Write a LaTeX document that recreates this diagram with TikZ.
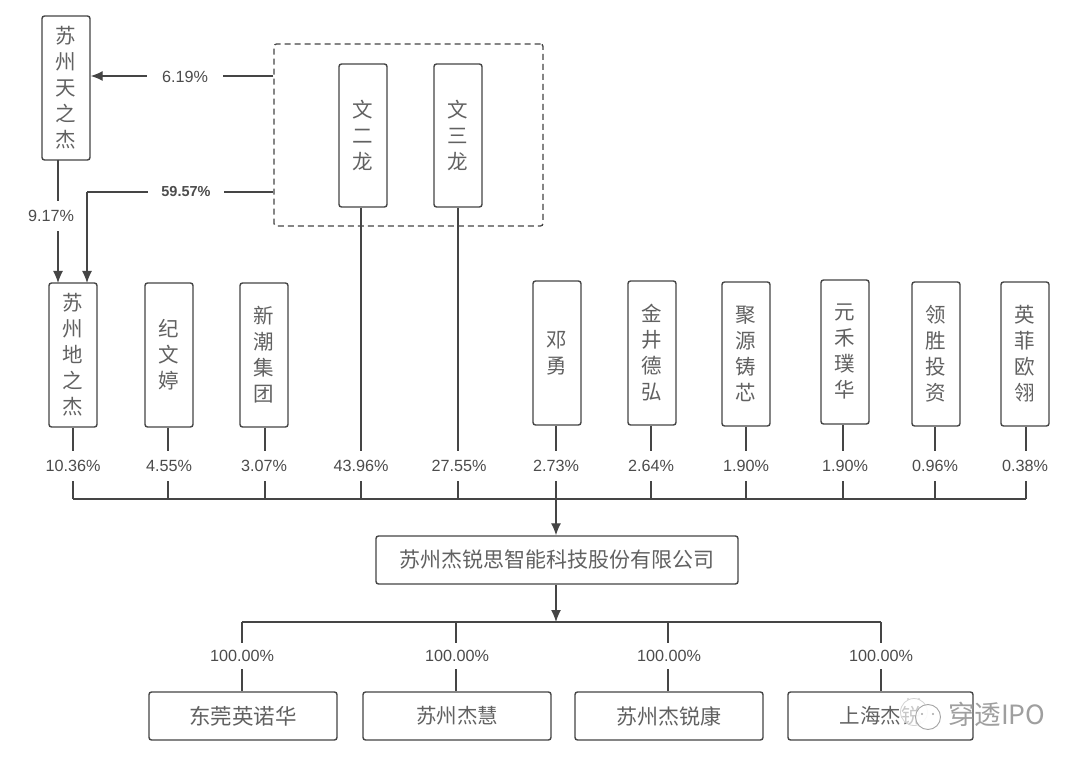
\documentclass[tikz,border=0pt]{standalone}
\usepackage{fontspec}
\setmainfont{Liberation Sans}
\newfontfamily\cjk{Noto Sans CJK SC}
\usetikzlibrary{arrows.meta}
\definecolor{ink}{gray}{0.27}
\definecolor{txt}{gray}{0.3}
\definecolor{cjktxt}{gray}{0.38}
\tikzset{
  x=1pt,y=-1pt,
  conn/.style={draw=ink,line width=1.3pt},
  arr/.style={conn,-{Latex[length=12pt,width=10pt]}},
  vbox/.style={draw=ink,line width=1.4pt,rounded corners=2.5pt,fill=white,minimum width=48pt,minimum height=144pt,inner sep=0pt,align=center,text=cjktxt,font=\fontsize{20.5}{26}\selectfont\cjk},
  hbox/.style={draw=ink,line width=1.4pt,rounded corners=2.5pt,fill=white,minimum width=188pt,minimum height=48pt,inner sep=0pt,text=cjktxt,font=\fontsize{21}{24}\selectfont\cjk},
  pct/.style={fill=white,inner sep=3pt,text=txt,font=\fontsize{16.2}{18}\selectfont},
  dashbox/.style={draw=ink,line width=1.3pt,dash pattern=on 6pt off 4pt,rounded corners=2.5pt,minimum width=269pt,minimum height=182pt,inner sep=0pt},
}
\begin{document}
\begin{tikzpicture}
\useasboundingbox (0,0) rectangle (1080,762);
\fill[white] (0,0) rectangle (1080,762);
% dashed group
\node[dashbox] (group) at (408.5,135) {};
% boxes
\node[vbox] (tian) at (66,88) {苏\\州\\天\\之\\杰};
\node[vbox,minimum height=143pt] (er) at (363,135.5) {文\\二\\龙};
\node[vbox,minimum height=143pt] (san) at (458,135.5) {文\\三\\龙};
\node[vbox] (di) at (73,355) {苏\\州\\地\\之\\杰};
\node[vbox] (ji) at (169,355) {纪\\文\\婷};
\node[vbox] (xin) at (264,355) {新\\潮\\集\\团};
\node[vbox] (deng) at (557,353) {邓\\勇};
\node[vbox] (jin) at (652,353) {金\\井\\德\\弘};
\node[vbox] (ju) at (746,354) {聚\\源\\铸\\芯};
\node[vbox] (yuan) at (845,352) {元\\禾\\璞\\华};
\node[vbox] (ling) at (936,354) {领\\胜\\投\\资};
\node[vbox] (ying) at (1025,354) {英\\菲\\欧\\翎};
\node[hbox,minimum width=362pt] (co) at (557,560) {苏州杰锐思智能科技股份有限公司};
\node[hbox,font=\fontsize{21.5}{24}\selectfont\cjk] (dg) at (243,716) {东莞英诺华};
\node[hbox,font=\fontsize{20.5}{24}\selectfont\cjk] (sh) at (457,716) {苏州杰慧};
\node[hbox] (kang) at (669,716) {苏州杰锐康};
\node[hbox,minimum width=185pt,font=\fontsize{20.5}{24}\selectfont\cjk] (hai) at (880.5,716) {上海杰锐};
% bus coordinates
\coordinate (busL) at (73,499);
\coordinate (busR) at (1026,499);
\coordinate (busM) at (556,499);
\coordinate (bus2L) at (242,622);
\coordinate (bus2R) at (881,622);
\coordinate (bus2M) at (556,622);
% top connectors
\coordinate (g1) at (group.west |- 0,76);
\coordinate (g2) at (group.west |- 0,192);
\coordinate (t1) at (tian.east |- 0,76);
\coordinate (d1) at (87,283);
\coordinate (c1) at (87,192);
\coordinate (t2) at (58,160);
\coordinate (d2) at (58,283);
\draw[arr] (g1) -- (t1);
\draw[conn] (g2) -- (c1);
\draw[arr] (c1) -- (d1);
\draw[arr] (t2) -- (d2);
\node[pct,inner xsep=15pt,inner ysep=1pt] (p619) at (185,77) {6.19\%};
\node[pct,inner xsep=13pt,inner ysep=1pt,font=\fontsize{14.5}{17}\selectfont\bfseries] (p5957) at (186,192) {59.57\%};
\node[pct,inner ysep=9pt] (p917) at (51,216) {9.17\%};
% shareholder verticals
\foreach \src/\xx/\lab/\lx in {
  di/73/10.36/73, ji/168/4.55/169, xin/265/3.07/264, er/361/43.96/361,
  san/458/27.55/459, deng/556/2.73/556, jin/651/2.64/651, ju/746/1.90/746,
  yuan/843/1.90/845, ling/935/0.96/935, ying/1026/0.38/1025}{
  \draw[conn] (\xx,0 |- \src.south) -- (\xx,499);
  \node[pct,inner ysep=9pt] (p\src) at (\lx,466) {\lab\%};
}
\draw[conn] (busL) -- (busR);
\draw[arr] (busM) -- (busM |- co.north);
\draw[arr] (busM |- co.south) -- (bus2M);
% subsidiaries
\draw[conn] (bus2L) -- (bus2R);
\foreach \dst/\xx/\lx in {dg/242/242, sh/456/457, kang/668/669, hai/881/881}{
  \draw[conn] (\xx,622) -- (\xx,0 |- \dst.north);
  \node[pct,inner ysep=7pt] (q\dst) at (\lx,656) {100.00\%};
}
% watermark
\node[text=gray!75,font=\fontsize{26.5}{28}\selectfont\cjk,anchor=west,inner sep=0pt] (wm) at (948,714) {穿透IPO};
\node[draw=gray!35,line width=0.8pt,fill=white,fill opacity=0.65,circle,minimum size=27pt,inner sep=0pt] (bub1) at (914,712) {};
\node[draw=gray!70,line width=0.9pt,fill=white,fill opacity=0.9,circle,minimum size=25pt,inner sep=0pt] (bub2) at (928,717) {};
\fill[gray!70] (922,714) circle (1.2pt) (933,714) circle (1.2pt);
\fill[gray!35] (908,699) circle (1.1pt) (919,699) circle (1.1pt);
\end{tikzpicture}
\end{document}
